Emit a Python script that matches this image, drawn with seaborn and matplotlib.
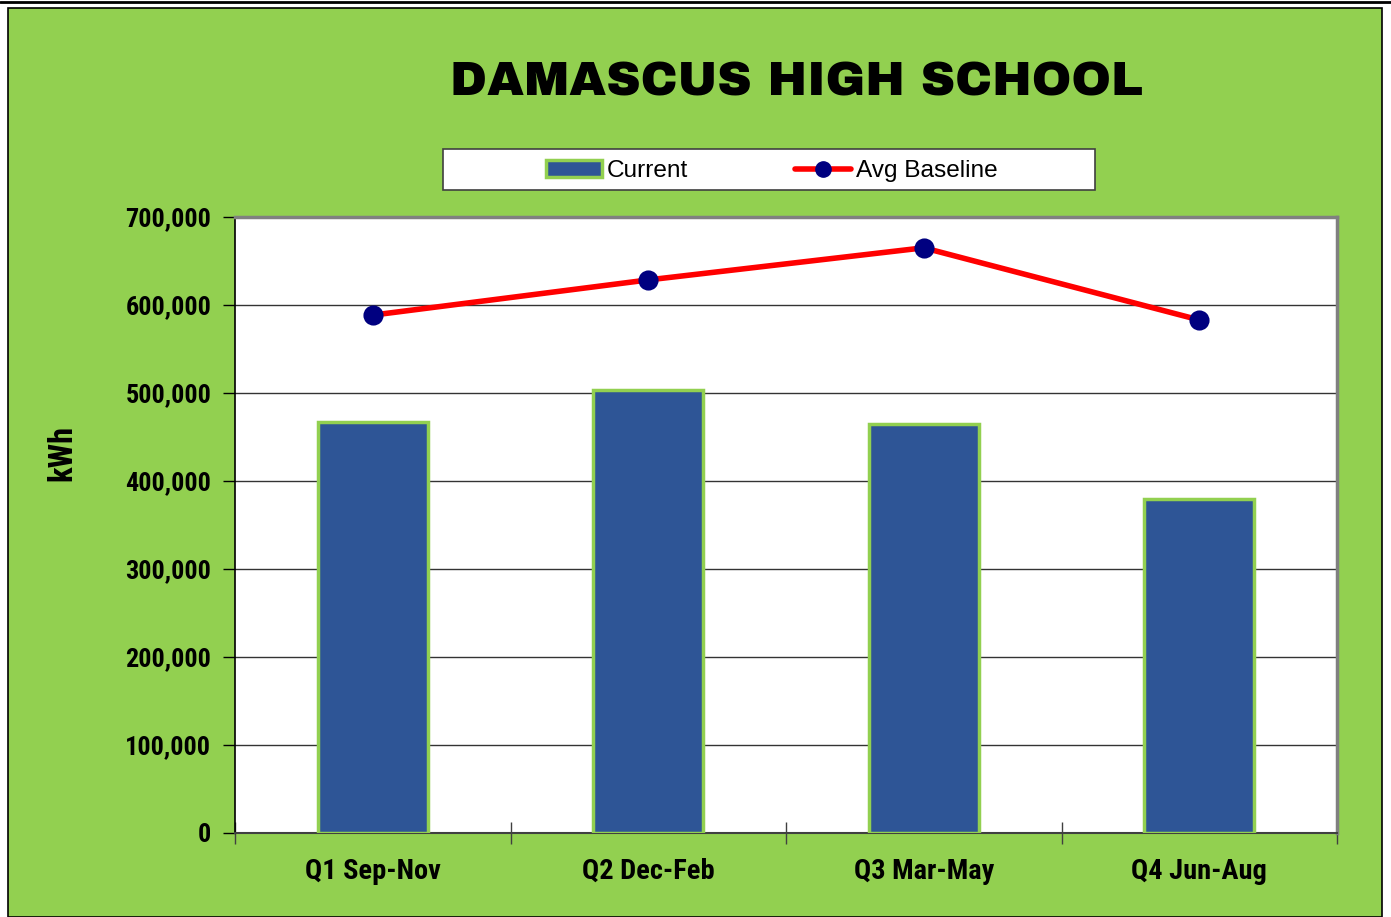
import matplotlib
matplotlib.use("Agg")
import matplotlib.pyplot as plt
import seaborn as sns
import pandas as pd
from matplotlib import font_manager as fm
from matplotlib.patches import Rectangle, Patch
from matplotlib.lines import Line2D
from matplotlib.ticker import FuncFormatter

categories = ["Q1 Sep-Nov", "Q2 Dec-Feb", "Q3 Mar-May", "Q4 Jun-Aug"]
current = [467000, 503500, 465000, 379500]
baseline = [588500, 628500, 665000, 583000]

def weight_num(w):
    if isinstance(w, int):
        return w
    return {"bold": 700, "heavy": 900, "black": 900, "extra bold": 800, "semibold": 600,
            "demibold": 600, "normal": 400, "regular": 400, "book": 400}.get(str(w).lower(), 400)

bold_names = set(f.name for f in fm.fontManager.ttflist
                 if weight_num(f.weight) >= 700 and "Italic" not in f.fname and f.style == "normal")
available = set(f.name for f in fm.fontManager.ttflist)

def pick(cands, default, pool):
    for c in cands:
        if c in pool:
            return c
    return default

narrow = pick(["Liberation Sans Narrow", "Arial Narrow", "Archivo Narrow", "Roboto Condensed",
               "PT Sans Narrow", "Pragati Narrow", "Open Sans Condensed", "Asap Condensed",
               "Fira Sans Condensed", "IBM Plex Sans Condensed", "Barlow Semi Condensed",
               "Encode Sans Condensed", "Sofia Sans Condensed"], "Liberation Sans", bold_names)
black_font = pick(["Arial Black", "Archivo Black"], "DejaVu Sans", available)
regular = pick(["Liberation Sans", "Arimo"], "DejaVu Sans", available)

sns.set_theme(style="white")
plt.rcParams['font.family'] = [narrow, 'DejaVu Sans']
plt.rcParams['text.color'] = 'black'
plt.rcParams['axes.labelcolor'] = 'black'
plt.rcParams['xtick.color'] = 'black'
plt.rcParams['ytick.color'] = 'black'

W, H = 1391, 917
fig = plt.figure(figsize=(W/100, H/100), dpi=100, facecolor="white")
renderer = fig.canvas.get_renderer()

def fit_size(text, family, weight, target_px, base=20):
    t = fig.text(0, 0, text, fontsize=base, family=[family, "DejaVu Sans"], fontweight=weight)
    w = t.get_window_extent(renderer).width
    t.remove()
    return base * target_px / w

tick_size = fit_size("700,000", narrow, "bold", 86)
xtick_size = fit_size("Q1 Sep-Nov", narrow, "bold", 135)
title_size = fit_size("DAMASCUS HIGH SCHOOL", black_font, "heavy", 694, base=34)
leg_size = fit_size("Avg Baseline", regular, "normal", 142, base=17)
ylab_size = fit_size("kWh", narrow, "bold", 56)

green = "#92D050"
fig.patches.append(Rectangle((8/W, 0), (1382-8)/W, (H-8)/H, transform=fig.transFigure,
                             facecolor=green, edgecolor="black", linewidth=1.2, zorder=-5))
fig.add_artist(Line2D([0, 1], [1 - 1.5/H, 1 - 1.5/H], color="black", linewidth=2, zorder=-4))

ax = fig.add_axes([235/W, (H-833)/H, (1337-235)/W, (833-217)/H])
ax.set_facecolor("white")

df = pd.DataFrame({"Quarter": categories, "Current": current, "Baseline": baseline})
sns.barplot(data=df, x="Quarter", y="Current", color="#2E5596", saturation=1,
            width=0.4, edgecolor=green, linewidth=2.5, ax=ax, zorder=3)
sns.pointplot(data=df, x="Quarter", y="Baseline", color="red", markers="o",
              linewidth=4, markersize=11.5, markerfacecolor="#000080",
              markeredgecolor="#000080", ax=ax, zorder=4)

ax.set_ylim(0, 700000)
ax.set_xlim(-0.5, 3.5)
ax.set_yticks(range(0, 700001, 100000))
ax.yaxis.set_major_formatter(FuncFormatter(lambda v, p: f"{int(v):,}"))
ax.grid(axis="y", color="#333333", linewidth=1, zorder=0)
ax.set_axisbelow(True)

for s in ["top", "right"]:
    ax.spines[s].set_color("#808080")
    ax.spines[s].set_linewidth(2.5)
ax.spines["left"].set_color("black")
ax.spines["left"].set_linewidth(1.2)
ax.spines["bottom"].set_color("#404040")
ax.spines["bottom"].set_linewidth(1.5)

ax.tick_params(axis="y", left=True, direction="out", length=9, width=1, color="black",
               labelsize=tick_size, pad=8)
ax.set_xticks([0, 1, 2, 3])
ax.set_xticks([-0.5, 0.5, 1.5, 2.5, 3.5], minor=True)
ax.tick_params(axis="x", which="major", bottom=False, labelsize=xtick_size, pad=12)
ax.tick_params(axis="x", which="minor", bottom=True, direction="inout", length=16, width=1, color="#404040")
for lbl in ax.get_xticklabels() + ax.get_yticklabels():
    lbl.set_fontweight("bold")

ax.set_xlabel("")
ax.set_ylabel("kWh", fontsize=ylab_size, fontweight="bold")
ax.yaxis.set_label_coords((78-235)/(1337-235), (833-453)/(833-217))

fig.text(796/W, 1 - 82/H, "DAMASCUS HIGH SCHOOL", ha="center", va="center",
         fontsize=title_size, fontweight="heavy", family=[black_font, "DejaVu Sans"], color="black")

fig.patches.append(Rectangle((443/W, (H-190)/H), (1095-443)/W, 41/H, transform=fig.transFigure,
                             facecolor="white", edgecolor="#404040", linewidth=1.2, zorder=1))
handles = [Patch(facecolor="#2E5596", edgecolor=green, linewidth=2.5, label="Current"),
           Line2D([], [], color="red", linewidth=4, marker="o", markersize=11,
                  markerfacecolor="#000080", markeredgecolor="#000080", label="Avg Baseline")]
leg = fig.legend(handles=handles, loc="center", bbox_to_anchor=(772/W, 1 - 171/H), ncol=2,
                 frameon=False, handlelength=2.3, handletextpad=0.2,
                 columnspacing=4.4, prop={"family": [regular, "DejaVu Sans"], "size": leg_size})
for t in leg.get_texts():
    t.set_color("black")
leg.set_zorder(5)

fig.savefig("out.png", dpi=100, facecolor="white")
